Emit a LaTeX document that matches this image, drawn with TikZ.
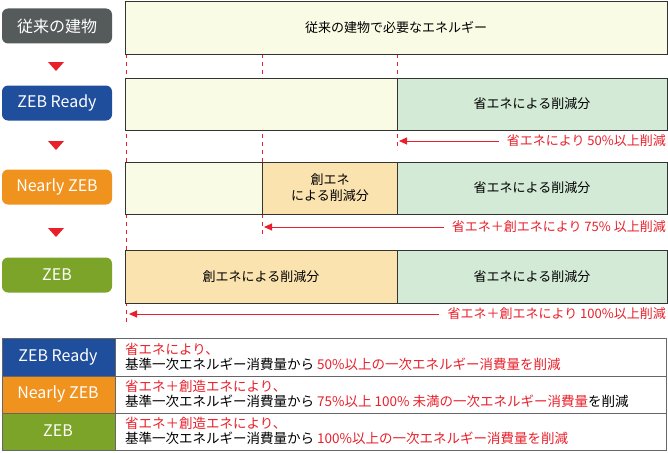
\documentclass[tikz,border=0pt]{standalone}
\usepackage{fontspec}
\setmainfont{Noto Sans CJK JP}
\usetikzlibrary{arrows.meta}
\definecolor{cgray}{HTML}{555B5A}
\definecolor{cblue}{HTML}{1F4E9C}
\definecolor{corange}{HTML}{F0921E}
\definecolor{cgreen}{HTML}{7BA428}
\definecolor{cream}{HTML}{FAFBE4}
\definecolor{lgreen}{HTML}{D3EAD6}
\definecolor{lorange}{HTML}{FBE3B0}
\definecolor{cred}{HTML}{E8202A}
\tikzset{
 lab/.style={rounded corners=6pt,text=white,font=\fontsize{16}{18}\selectfont,minimum width=110pt,minimum height=35pt,inner sep=0pt},
 bar/.style={draw=black!80,line width=1pt},
 btxt/.style={font=\fontsize{13}{16}\selectfont,align=center},
 rtxt/.style={text=cred,font=\fontsize{13}{15}\selectfont,anchor=east,inner sep=0pt,fill=white,inner xsep=2pt},
 dl/.style={cred,dashed,line width=1pt,dash pattern=on 4pt off 4pt},
 arr/.style={cred,line width=1pt,-{Triangle[length=8pt,width=7pt]}},
 tri/.style={fill=cred,draw=none},
 ttxt/.style={font=\fontsize{13.5}{15.5}\selectfont,align=left,anchor=west,inner sep=0pt},
 tlab/.style={text=white,font=\fontsize{16}{18}\selectfont}
}
\begin{document}
\begin{tikzpicture}[x=1pt,y=-1pt]
\useasboundingbox (0,0) rectangle (668,452);
% left labels
\node[lab,fill=cgray] (l1) at (57,26) {従来の建物};
\node[lab,fill=cblue] (l2) at (57,103) {ZEB Ready};
\node[lab,fill=corange] (l3) at (57,187) {Nearly ZEB};
\node[lab,fill=cgreen] (l4) at (57,275) {ZEB};
\foreach \y in {62,141,228}{\fill[tri] (48,\y) -- (64,\y) -- (56,\y+9) -- cycle;}
% dashed lines
\draw[dl] (126,54) -- (126,323);
\draw[dl] (262,54) -- (262,234);
\draw[dl] (397,54) -- (397,150);
% bars
\draw[bar,fill=cream] (125,2) rectangle (667,54);
\node[btxt] (t1) at (396,28) {従来の建物で必要なエネルギー};
\draw[bar,fill=cream] (125,78) rectangle (397,130);
\draw[bar,fill=lgreen] (397,78) rectangle (667,130);
\node[btxt] (t2) at (532,104) {省エネによる削減分};
\draw[bar,fill=cream] (125,162) rectangle (262,214);
\draw[bar,fill=lorange] (262,162) rectangle (397,214);
\draw[bar,fill=lgreen] (397,162) rectangle (667,214);
\node[btxt] (t3a) at (330,188) {創エネ\\による削減分};
\node[btxt] (t3b) at (532,188) {省エネによる削減分};
\draw[bar,fill=lorange] (125,250) rectangle (397,303);
\draw[bar,fill=lgreen] (397,250) rectangle (667,303);
\node[btxt] (t4a) at (261,277) {創エネによる削減分};
\node[btxt] (t4b) at (532,277) {省エネによる削減分};
% arrows
\node[rtxt] (a1) at (668,141) {省エネにより 50\%以上削減};
\coordinate (e1) at (399,141);
\draw[arr] (a1.west) ++(-6,0) -- (e1);
\node[rtxt] (a2) at (668,227) {省エネ＋創エネにより 75\% 以上削減};
\coordinate (e2) at (264,227);
\draw[arr] (a2.west) ++(-6,0) -- (e2);
\node[rtxt] (a3) at (668,314) {省エネ＋創エネにより 100\%以上削減};
\coordinate (e3) at (129,314);
\draw[arr] (a3.west) ++(-6,0) -- (e3);
% table
\fill[cblue] (2,338) rectangle (115,376);
\fill[corange] (2,376) rectangle (115,413);
\fill[cgreen] (2,413) rectangle (115,450);
\draw[black!60,line width=0.8pt] (2,338) rectangle (666,450);
\draw[black!60,line width=0.8pt] (2,376) -- (666,376) (2,413) -- (666,413) (115,338) -- (115,450);
\node[tlab] (r1) at (58,357) {ZEB Ready};
\node[tlab] (r2) at (58,394) {Nearly ZEB};
\node[tlab] (r3) at (58,431) {ZEB};
\node[ttxt] (d1) at (125,357) {\textcolor{cred}{省エネにより、}\\基準一次エネルギー消費量から \textcolor{cred}{50\%以上の一次エネルギー消費量を削減}};
\node[ttxt] (d2) at (125,394) {\textcolor{cred}{省エネ＋創造エネにより、}\\基準一次エネルギー消費量から \textcolor{cred}{75\%以上 100\% 未満の一次エネルギー消費量}を削減};
\node[ttxt] (d3) at (125,431) {\textcolor{cred}{省エネ＋創造エネにより、}\\基準一次エネルギー消費量から \textcolor{cred}{100\%以上の一次エネルギー消費量を削減}};
\end{tikzpicture}
\end{document}
